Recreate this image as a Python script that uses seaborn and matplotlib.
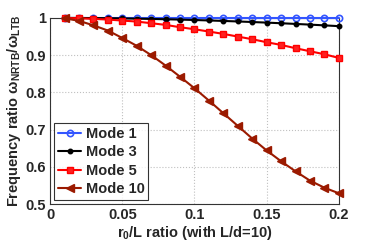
import numpy as np
import pandas as pd
import matplotlib
matplotlib.use("Agg")
import matplotlib.pyplot as plt
import seaborn as sns

# r0/L ratio values
ratio = [0.01, 0.02, 0.03, 0.04, 0.05, 0.06, 0.07, 0.08, 0.09, 0.10,
         0.11, 0.12, 0.13, 0.14, 0.15, 0.16, 0.17, 0.18, 0.19, 0.20]

mode1 = [1.0] * 20
mode3 = [1.0, 0.9998, 0.9995, 0.9991, 0.9986, 0.9979, 0.9972, 0.9963, 0.9954, 0.9943,
         0.9931, 0.9918, 0.9904, 0.9889, 0.9873, 0.9856, 0.9838, 0.9819, 0.9799, 0.9778]
mode5 = [0.9995, 0.9991, 0.9973, 0.9955, 0.9928, 0.9901, 0.9857, 0.9812, 0.9749, 0.9695,
         0.9633, 0.9570, 0.9498, 0.9427, 0.9346, 0.9274, 0.9185, 0.9104, 0.9023, 0.8925]
mode10 = [0.999, 0.992, 0.980, 0.966, 0.946, 0.925, 0.900, 0.872, 0.842, 0.811,
          0.778, 0.744, 0.710, 0.676, 0.644, 0.615, 0.588, 0.563, 0.544, 0.529]

series_names = ["Mode 1", "Mode 3", "Mode 5", "Mode 10"]
series_vals = [mode1, mode3, mode5, mode10]

sns.set_style("white")
plt.rcParams['font.family'] = ['Liberation Sans', 'DejaVu Sans']
plt.rcParams['font.weight'] = 'bold'
plt.rcParams['mathtext.fontset'] = 'custom'
plt.rcParams['mathtext.rm'] = 'Liberation Sans:bold'
plt.rcParams['mathtext.it'] = 'Liberation Sans:bold'

fig = plt.figure(figsize=(3.74, 2.45), dpi=100)
ax = fig.add_axes([0.134, 0.167, 0.772, 0.76])

#styles for each line
styles = {
    "Mode 1": dict(color="#3355ff", marker="o", mfc="none", ms=4.5, mew=1.2),
    "Mode 3": dict(color="black", marker=".", ms=6.5, mew=1),
    "Mode 5": dict(color="#ff0000", marker="s", ms=4.5, mfc="#ff2020", mew=1),
    "Mode 10": dict(color="#9b1a00", marker="<", ms=6, mew=1),
}

for name, vals in zip(series_names, series_vals):
    st = styles[name]
    sns.lineplot(x=ratio, y=vals, ax=ax, label=name, color=st["color"], lw=1.5,
                 marker=st["marker"], markersize=st["ms"],
                 markerfacecolor=st.get("mfc", st["color"]),
                 markeredgecolor=st["color"], markeredgewidth=st["mew"],
                 clip_on=False, zorder=3)

ax.set_xlim(0, 0.2)
ax.set_ylim(0.5, 1.0)
ax.set_xticks([0, 0.05, 0.1, 0.15, 0.2])
ax.set_xticklabels(["0", "0.05", "0.1", "0.15", "0.2"])
ax.set_yticks([0.5, 0.6, 0.7, 0.8, 0.9, 1.0])
ax.set_yticklabels(["0.5", "0.6", "0.7", "0.8", "0.9", "1"])
ax.tick_params(labelsize=10.5, direction="in", length=3, pad=3)
ax.grid(True, linestyle=":", color="#c0c0c0", lw=0.8)

for sp in ax.spines.values():
    sp.set_color("#333333")
    sp.set_linewidth(0.8)

ax.set_xlabel(r"r$_0$/L ratio (with L/d=10)", fontsize=10.5, fontweight="bold", labelpad=1)
ax.set_ylabel(r"Frequency ratio $\omega_{\mathrm{NRTB}}/\omega_{\mathrm{LTB}}$",
              fontsize=10.5, fontweight="bold", labelpad=2)

leg = ax.legend(loc="lower left", fontsize=10.5, frameon=True, fancybox=False,
                borderaxespad=0.3, handlelength=1.6, handletextpad=0.3,
                labelspacing=0.3, borderpad=0.25, numpoints=1)
leg.get_frame().set_edgecolor("black")
leg.get_frame().set_linewidth(0.8)
leg.set_zorder(5)

fig.savefig("out.png", dpi=100)
